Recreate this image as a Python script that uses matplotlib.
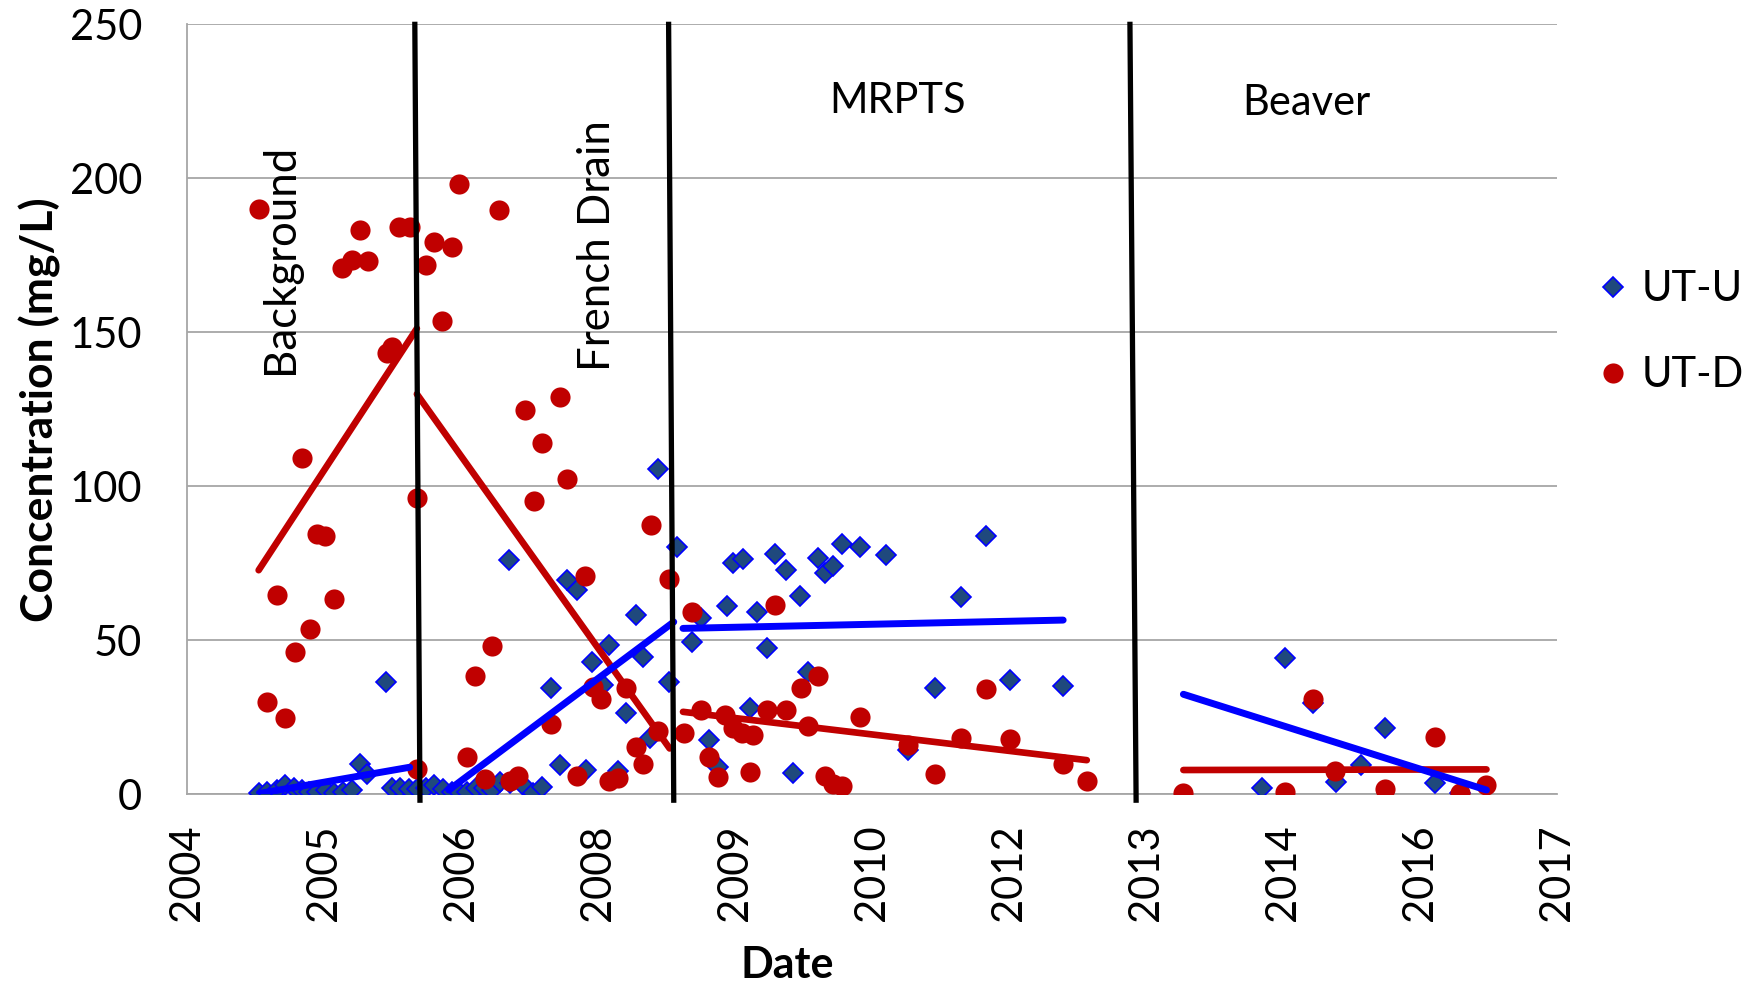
import numpy as np
import matplotlib.pyplot as plt

plt.rcParams["font.family"] = ["Lato", "DejaVu Sans"]

# UT-D samples (decimal year, mg/L)
ud_year = [2004.70, 2005.69, 2006.07, 2006.17, 2005.51, 2005.61, 2005.76, 2006.65,
           2007.04, 2006.41, 2006.58, 2006.33, 2006.48, 2005.95, 2006.00, 2007.29,
           2007.63, 2007.46, 2007.70, 2005.12, 2006.24, 2007.38, 2008.52, 2005.27,
           2005.35, 2004.88, 2005.43, 2005.20, 2005.05, 2004.78, 2004.96, 2006.97,
           2006.81, 2006.73, 2006.24, 2006.90, 2007.15, 2007.22, 2007.88, 2008.69,
           2008.92, 2007.55, 2007.95, 2008.03, 2008.28, 2008.59, 2008.84, 2008.37,
           2008.44, 2007.80, 2008.11, 2008.20, 2009.01, 2009.24, 2009.32, 2009.40,
           2009.51, 2009.08, 2009.17, 2009.48, 2009.73, 2010.14, 2009.98, 2009.65,
           2009.83, 2010.05, 2010.55, 2011.02, 2011.54, 2012.01, 2011.78, 2012.53,
           2012.76, 2010.21, 2010.29, 2010.38, 2011.28, 2013.70, 2014.69, 2014.96,
           2015.18, 2015.66, 2016.15, 2016.39, 2016.65]
ud_conc = [189.9, 183.3, 184.1, 184.1, 171.0, 173.6, 173.0, 198.3,
           189.6, 179.3, 177.7, 171.8, 153.7, 143.1, 145.2, 124.7,
           128.9, 114.0, 102.2, 109.0, 96.0, 95.1, 87.3, 84.6,
           83.8, 64.6, 63.5, 53.5, 46.0, 29.8, 24.8, 48.1,
           38.4, 12.1, 8.1, 4.8, 4.2, 5.8, 70.8, 70.0,
           59.2, 22.9, 34.8, 31.0, 34.3, 20.5, 19.7, 15.2,
           9.6, 5.8, 4.3, 5.1, 27.3, 25.6, 21.3, 19.7,
           19.2, 12.1, 5.4, 7.2, 61.4, 38.4, 34.3, 27.3,
           27.3, 22.1, 24.9, 15.9, 18.3, 17.9, 34.1, 9.7,
           4.2, 5.9, 3.2, 2.7, 6.4, 0.4, 0.7, 31.0,
           7.6, 1.5, 18.6, 0.4, 2.9]

# UT-U samples (decimal year, mg/L)
uu_year = [2004.70, 2004.78, 2004.88, 2004.96, 2005.04, 2005.12, 2005.19, 2005.27,
           2005.36, 2005.43, 2005.52, 2005.61, 2005.69, 2005.75, 2005.94,
           2006.00, 2006.08, 2006.16, 2006.24, 2006.33, 2006.41, 2006.49, 2006.58,
           2006.66, 2006.73, 2006.82, 2006.89, 2006.97, 2007.05, 2007.15, 2007.29,
           2007.37, 2007.46,
           2007.14, 2008.59, 2008.77, 2007.70, 2007.80, 2009.32, 2009.41, 2008.37,
           2009.26, 2009.55, 2009.01, 2008.92, 2008.11, 2007.94, 2008.44, 2008.69,
           2007.55, 2008.05, 2008.28, 2009.48, 2008.51, 2009.08, 2007.63, 2007.89,
           2008.20, 2009.17, 2009.73, 2009.83, 2009.97, 2009.65, 2010.14, 2010.21,
           2010.29, 2010.38, 2010.55, 2010.81, 2011.78, 2011.54, 2010.05, 2011.28,
           2012.01, 2012.53, 2009.90, 2011.02,
           2014.69, 2014.96, 2015.66, 2015.43, 2014.47, 2015.19, 2016.15, 2016.39]
uu_conc = [0.2, 0.8, 1.3, 2.9, 1.9, 1.3, 0.8, 0.8,
           1.3, 0.2, 0.8, 1.3, 9.6, 6.5, 36.5,
           1.9, 1.9, 1.5, 1.5, 1.9, 2.9, 1.5, 0.8,
           0.2, 0.5, 1.9, 1.9, 1.3, 4.0, 3.5, 2.4,
           0.2, 2.4,
           76.0, 105.7, 80.3, 69.5, 66.2, 75.2, 76.2, 58.3,
           61.1, 59.2, 57.2, 49.4, 48.4, 42.9, 44.6, 36.5,
           34.3, 35.5, 26.4, 27.8, 18.1, 17.5, 9.4, 7.8,
           7.6, 8.9, 77.9, 72.7, 64.4, 47.3, 76.8, 71.9,
           74.0, 81.2, 80.1, 77.6, 83.9, 64.1, 39.7, 34.6,
           37.0, 35.2, 6.9, 14.3,
           44.3, 29.6, 21.3, 9.4, 2.0, 4.0, 3.5, 0.2]

# linear trendlines per treatment phase
ud_trend_x0 = [2004.70, 2006.24, 2008.83, 2013.70]
ud_trend_x1 = [2006.24, 2008.70, 2012.76, 2016.65]
ud_trend_c0 = [72.7, 129.9, 26.7, 7.8]
ud_trend_c1 = [151.2, 14.8, 11.0, 8.0]
uu_trend_x0 = [2004.71, 2006.55, 2008.83, 2013.70]
uu_trend_x1 = [2006.17, 2008.74, 2012.53, 2016.65]
uu_trend_c0 = [0.2, 1.3, 53.8, 32.4]
uu_trend_c1 = [8.7, 55.9, 56.5, 1.3]

# phase boundaries (drawn shapes, slightly slanted)
phase_top = [2006.22, 2008.69, 2013.18]
phase_bot = [2006.27, 2008.74, 2013.24]
phase_names = ["Background", "French Drain", "MRPTS", "Beaver"]

# date axis: Excel major unit ~487 days, labelled by year
tick_start = 2004.0
tick_step = 4.0 / 3.0
tick_labels = ["2004", "2005", "2006", "2008", "2009", "2010",
               "2012", "2013", "2014", "2016", "2017"]
y_ticks = [0, 50, 100, 150, 200, 250]

BLUE_FACE = "#1F497D"
BLUE = "#0000FF"
RED = "#C00000"
GRID = "#A6A6A6"

fig = plt.figure(figsize=(17.55, 9.86), dpi=100)
ax = fig.add_axes([0.1064, 0.1947, 0.7806, 0.7806])

ax.plot(uu_year, uu_conc, ls="none", marker="D", ms=10, mfc=BLUE_FACE,
        mec=BLUE, mew=1.2, zorder=3, label="UT-U")
ax.plot(ud_year, ud_conc, ls="none", marker="o", ms=14.5, mfc=RED,
        mec=RED, mew=0, zorder=4, label="UT-D")

for i in range(len(ud_trend_x0)):
    ax.plot([ud_trend_x0[i], ud_trend_x1[i]], [ud_trend_c0[i], ud_trend_c1[i]],
            color=RED, lw=4.8, solid_capstyle="round", zorder=5)
for i in range(len(uu_trend_x0)):
    ax.plot([uu_trend_x0[i], uu_trend_x1[i]], [uu_trend_c0[i], uu_trend_c1[i]],
            color=BLUE, lw=5.0, solid_capstyle="round", zorder=6)

for xt, xb in zip(phase_top, phase_bot):
    ax.plot([xt, xb], [250, -2], color="black", lw=3.8, zorder=7, clip_on=False)

# phase labels
ax.text(2004.91, 173.8, phase_names[0], rotation=90, ha="center", va="center",
        fontsize=31.5, zorder=8)
ax.text(2008.00, 178.0, phase_names[1], rotation=90, ha="center", va="center",
        fontsize=31.5, zorder=8)
ax.text(2010.92, 225.0, phase_names[2], ha="center", va="center",
        fontsize=30, zorder=8)
ax.text(2014.90, 224.4, phase_names[3], ha="center", va="center",
        fontsize=30, zorder=8)

xt = [tick_start + i * tick_step for i in range(len(tick_labels))]
ax.set_xlim(xt[0], xt[-1])
ax.set_ylim(0, 250)
ax.set_xticks(xt)
ax.set_xticklabels(tick_labels, rotation=90, fontsize=30)
ax.set_yticks(y_ticks)
ax.set_yticklabels([str(v) for v in y_ticks], fontsize=30)
ax.tick_params(axis="x", length=0, pad=22)
ax.tick_params(axis="y", length=0, pad=32)

ax.grid(axis="y", color=GRID, lw=1.3, zorder=0)
ax.set_axisbelow(True)
for side in ["top", "right"]:
    ax.spines[side].set_visible(False)
for side in ["left", "bottom"]:
    ax.spines[side].set_color(GRID)
    ax.spines[side].set_linewidth(1.3)

ax.set_ylabel("Concentration (mg/L)", fontsize=32, fontweight="bold", labelpad=6)
fig.text(787 / 1755, 1 - 965 / 986, "Date", fontsize=31, fontweight="bold",
         ha="center", va="center")

ax.legend(loc="center left", bbox_to_anchor=(1.017, 0.60), frameon=False,
          fontsize=30, handlelength=0.8, handletextpad=0.27, labelspacing=1.15,
          borderaxespad=0)

fig.savefig("out.png", dpi=100)
